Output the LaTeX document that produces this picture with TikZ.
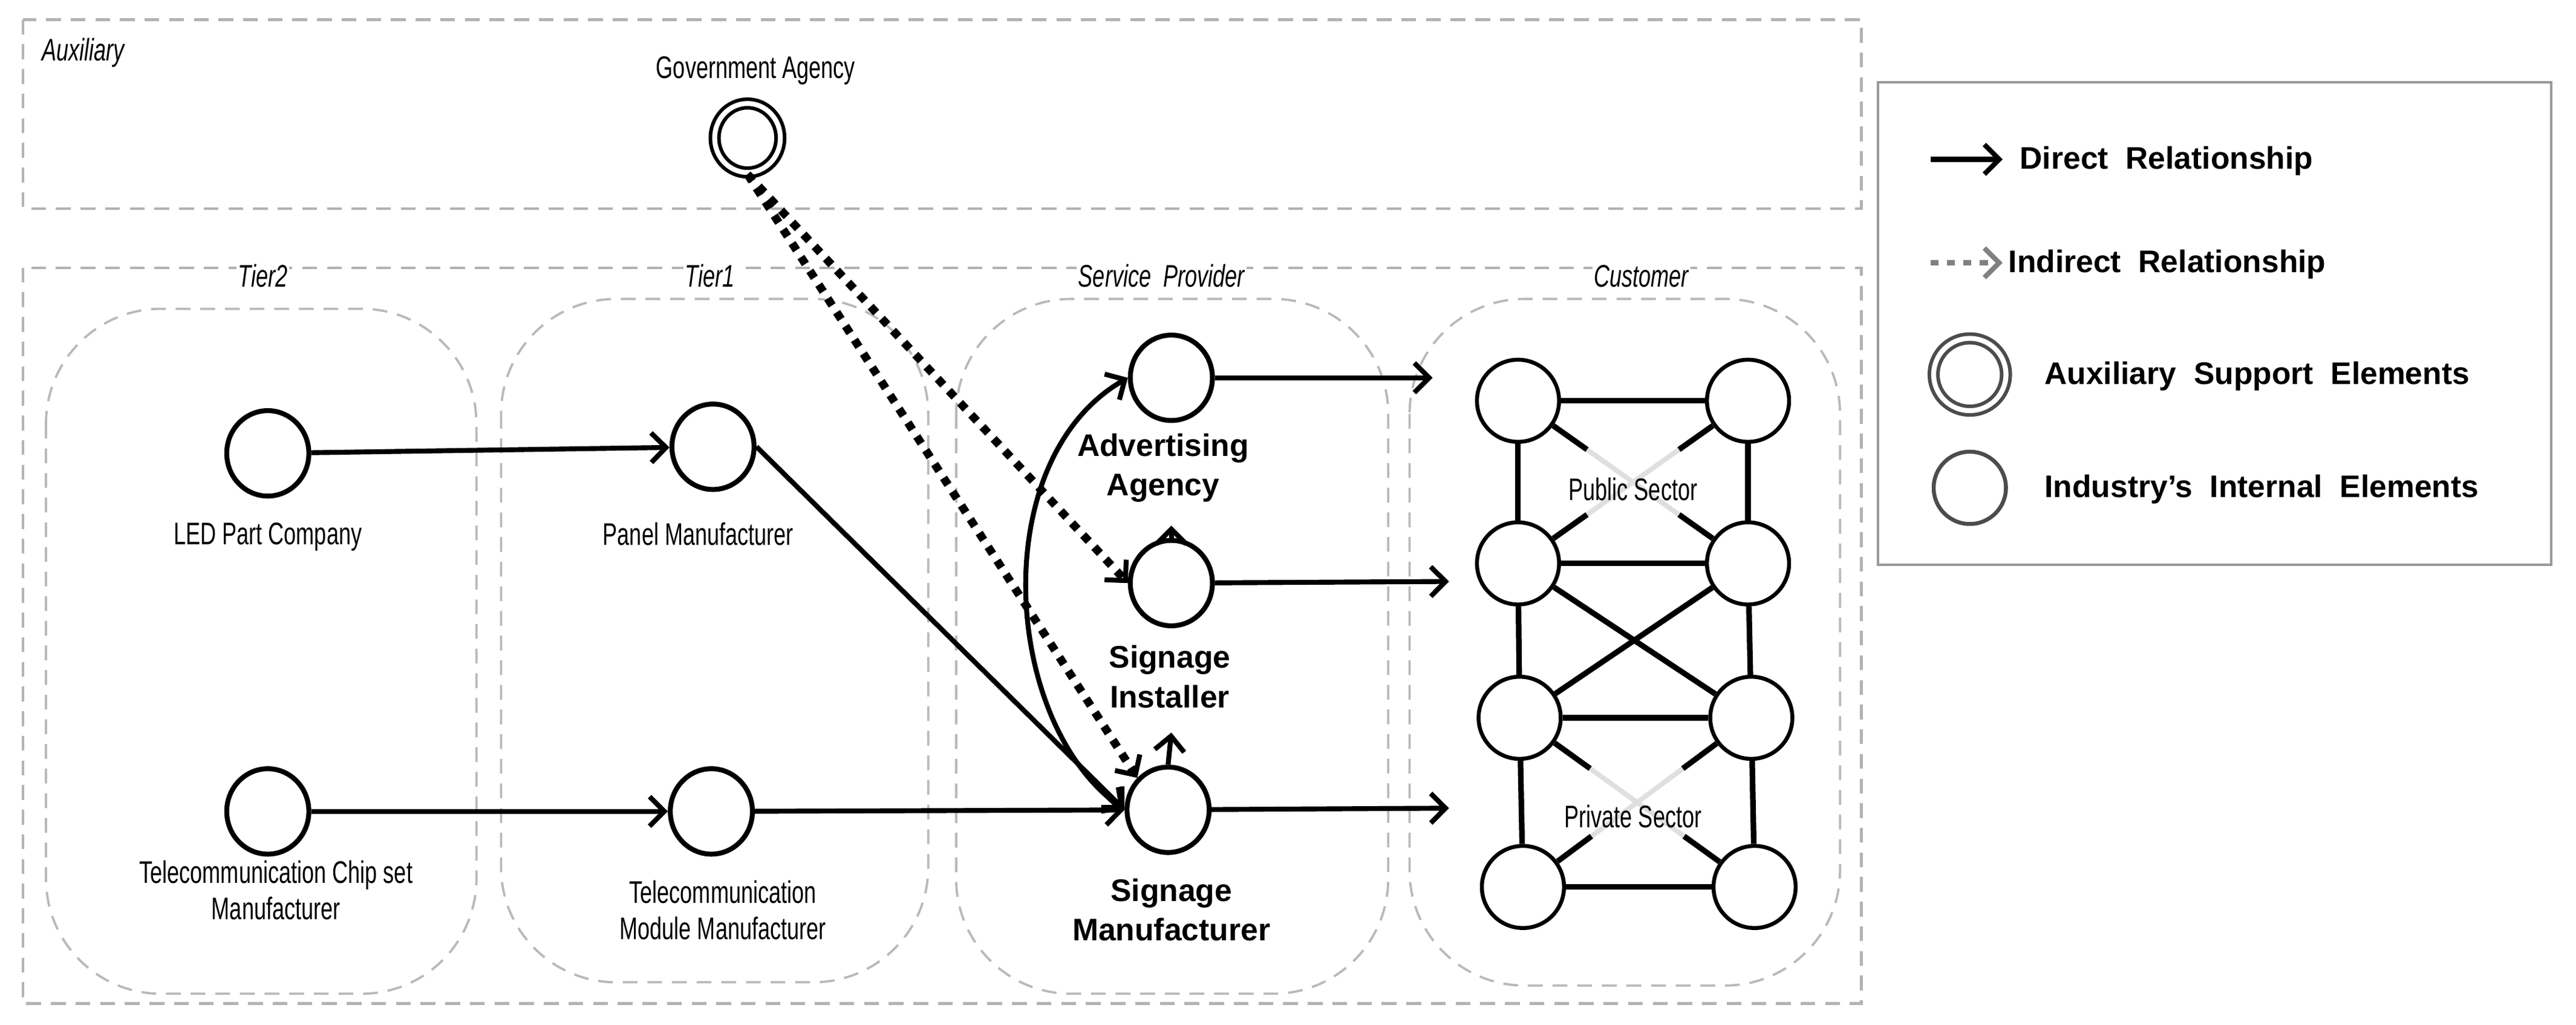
\documentclass[tikz,border=0pt]{standalone}
\usepackage{fontspec}
\setmainfont{Liberation Sans}
\newfontfamily\cond{Liberation Sans}[FakeStretch=0.7]
\usetikzlibrary{arrows.meta,calc,shapes.geometric}
\begin{document}
\begin{tikzpicture}[x=1pt,y=-1pt,
  box/.style={draw=gray!60,line width=1.6pt,dash pattern=on 9pt off 6pt},
  lane/.style={draw=gray!55,line width=1.4pt,dash pattern=on 9pt off 6pt,rounded corners=70pt},
  nd/.style={draw,line width=3pt,ellipse,minimum width=50pt,minimum height=52pt,inner sep=0pt},
  cn/.style={draw,line width=2.4pt,ellipse,minimum width=50pt,minimum height=50pt,inner sep=0pt},
  aux/.style={draw,line width=2.2pt,ellipse,minimum width=40pt,minimum height=42pt,inner sep=0pt,double,double distance=3pt},
  ct/.style={font=\cond\fontsize{19}{22}\selectfont},
  ttl/.style={font=\cond\itshape\fontsize{19}{21}\selectfont},
  bl/.style={font=\bfseries\fontsize{19}{24}\selectfont,align=center},
  arr/.style={line width=3pt,-{Straight Barb[length=9pt,width=18pt,line width=3pt]}},
  dot/.style={line width=5pt,dash pattern=on 5pt off 5pt,-{Straight Barb[length=9pt,width=18pt,line width=3pt]}},
  ce/.style={line width=3.4pt},
  gx/.style={line width=3pt,gray!25}]
\useasboundingbox (0,0) rectangle (1568,624);
% boxes
\draw[box] (14,12) rectangle (1133,127);
\draw[box] (14,163) rectangle (1133,611);
\node[ttl,anchor=west] (tAux) at (22,32) {Auxiliary};
\draw[lane] (28,188) rectangle (290,605);
\draw[lane] (305,182) rectangle (565,598);
\draw[lane] (582,182) rectangle (845,605);
\draw[lane] (858,182) rectangle (1120,600);
\node[ttl,fill=white,inner sep=1pt] (t2) at (160,168) {Tier2};
\node[ttl,fill=white,inner sep=1pt] (t1) at (432,168) {Tier1};
\node[ttl,fill=white,inner sep=1pt] (tsp) at (707,168) {Service\ \ Provider};
\node[ttl,fill=white,inner sep=1pt] (tcu) at (999,168) {Customer};
% government
\node[ct] (govt) at (460,43) {Government Agency};
\node[aux] (gov) at (455,84) {};
% nodes
\node[nd] (led) at (163,276) {};
\node[nd] (pan) at (434,272) {};
\node[nd] (chip) at (163,494) {};
\node[nd] (mod) at (433,494) {};
\node[nd] (ad) at (713,230) {};
\node[nd] (ins) at (713,355) {};
\node[nd] (sm) at (711,493) {};
\node[ct] (ledt) at (163,327) {LED Part Company};
\node[ct] (pant) at (425,325) {Panel Manufacturer};
\node[ct,align=center] (chipt) at (168,542) {Telecommunication Chip set\\Manufacturer};
\node[ct,align=center] (modt) at (440,554) {Telecommunication\\Module Manufacturer};
\node[bl] (adt) at (708,285) {Advertising\\Agency};
\node[bl] (inst) at (712,412) {Signage\\Installer};
\node[bl] (smt) at (713,554) {Signage\\Manufacturer};
% arrows
\draw[arr] (led) -- (pan);
\draw[arr] (chip) -- (mod);
\draw[arr] (pan.east) -- (sm.west);
\draw[arr] (mod) -- (sm);
\draw[arr,{Straight Barb[length=9pt,width=18pt,line width=3pt]}-{Straight Barb[length=9pt,width=18pt,line width=3pt]}] (sm.west) .. controls (610,440) and (600,280) .. (ad.west);
\coordinate (smup) at (713,446);
\draw[arr] (sm.north) -- (smup);
\coordinate (insup) at (713,320);
\draw[arr] (ins.north) -- (insup);
\draw[dot] (gov.south) -- (ins.west);
\draw[dot] (gov.south) -- (sm.north west);
\coordinate (adE) at (872,230);
\coordinate (insE) at (882,354);
\coordinate (smE) at (882,492);
\draw[arr] (ad) -- (adE);
\draw[arr] (ins) -- (insE);
\draw[arr] (sm) -- (smE);
% customer
\node[cn] (c1) at (924,244) {};
\node[cn] (c2) at (1064,244) {};
\node[cn] (c3) at (924,343) {};
\node[cn] (c4) at (1064,343) {};
\node[cn] (c5) at (925,437) {};
\node[cn] (c6) at (1066,437) {};
\node[cn] (c7) at (927,540) {};
\node[cn] (c8) at (1068,540) {};
\foreach \a/\b in {c1/c2,c3/c4,c5/c6,c7/c8,c1/c3,c3/c5,c5/c7,c2/c4,c4/c6,c6/c8,c3/c6,c4/c5}
  \draw[ce] (\a) -- (\b);
\foreach \a/\b in {c1/c4,c2/c3,c5/c8,c6/c7}{
  \draw[gx] (\a) -- (\b);
  \draw[ce] (\a) -- ($(\a)!0.3!(\b)$);
  \draw[ce] (\b) -- ($(\b)!0.3!(\a)$);
}
\node[ct] (pub) at (994,298) {Public Sector};
\node[ct] (pri) at (994,497) {Private Sector};
% legend
\draw[line width=1.5pt,gray!80] (1143,50) rectangle (1553,344);
\coordinate (l1a) at (1175,97); \coordinate (l1b) at (1219,97);
\draw[arr] (l1a) -- (l1b);
\node[bl,anchor=west] (l1) at (1226,98) {Direct\ \ Relationship};
\coordinate (l2a) at (1175,160); \coordinate (l2b) at (1219,160);
\draw[dot,gray,line width=3.5pt] (l2a) -- (l2b);
\node[bl,anchor=west] (l2) at (1219,161) {Indirect\ \ Relationship};
\node[aux,minimum width=44pt,minimum height=44pt,gray!60!black] (l3s) at (1199,228) {};
\node[bl,anchor=west] (l3) at (1241,229) {Auxiliary\ \ Support\ \ Elements};
\node[cn,minimum width=44pt,minimum height=44pt,gray!60!black] (l4s) at (1199,297) {};
\node[bl,anchor=west] (l4) at (1241,298) {Industry’s\ \ Internal\ \ Elements};
\end{tikzpicture}
\end{document}
